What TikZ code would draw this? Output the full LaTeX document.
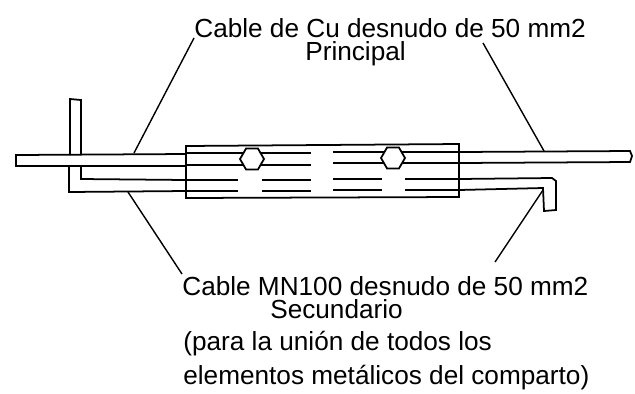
\documentclass[tikz,border=0pt]{standalone}
\usepackage{fontspec}
\setmainfont{Liberation Sans}
\usetikzlibrary{shapes.geometric}
\tikzset{wire/.style={line width=1pt},
	leader/.style={line width=.8pt},
	nut/.style={draw,line width=1pt,regular polygon,regular polygon sides=6,minimum size=.48cm,inner sep=0pt,fill=white},
	lbl/.style={font=\fontsize{14.9pt}{13pt}\selectfont,inner sep=0pt,anchor=north west,align=left}}
\begin{document}
\begin{tikzpicture}[x=.02cm,y=-.02cm]
	\useasboundingbox (0,0) rectangle (635,393);
	% upper cable
	\draw[wire] (186,154)--(16,155)--(16,166)--(186,166);
	\draw[wire] (459,152)--(630,151)--(632,156)--(630,162)--(459,163);
	% lower cable
	\draw[wire] (186,180)--(81,179)--(81,166);
	\draw[wire] (186,191)--(69,192)--(69,166);
	\draw[wire] (70,155)--(70,99)--(81,100)--(81,155);
	\draw[wire] (459,179)--(552,178)--(556,181)--(556,210)--(544,211)--(543,188)--(459,190);
	% clamp
	\draw[wire] (186,146)--(459,144)--(459,197)--(186,198)--cycle;
	\foreach \yy/\yb in {153/152,165/163,180/179,191/190}{
		\draw[wire] (186,\yy)--(238,\yy);
		\draw[wire] (262,\yy)--(311,\yy);
		\draw[wire] (333,\yb)--(382,\yb);
		\draw[wire] (405,\yb)--(459,\yb);
	}
	\foreach \yy in {153,165}
		\draw[wire] (238,\yy)--(262,\yy);
	\foreach \yb in {152,163}
		\draw[wire] (382,\yb)--(405,\yb);
	\node[nut] (nutL) at (252,159) {};
	\node[nut] (nutR) at (393,158) {};
	% labels
	\node[lbl] (princ) at (194,18) {Cable de Cu desnudo de 50 mm2\\\hspace*{2.22cm}Principal};
	\node[lbl] (secun) at (182,276) {Cable MN100 desnudo de 50 mm2\\\hspace*{1.76cm}Secundario};
	\node[lbl] (union) at (183,331) {(para la unión de todos los\\[4.4pt]elementos metálicos del comparto)};
	% leaders
	\coordinate (upL) at (134,153);
	\coordinate (upLe) at (194,38);
	\coordinate (upR) at (544,151);
	\coordinate (upRe) at (483,43);
	\coordinate (loL) at (128,192);
	\coordinate (loLe) at (182,274);
	\coordinate (loR) at (543,190);
	\coordinate (loRe) at (495,262);
	\draw[leader] (upL)--(upLe);
	\draw[leader] (upR)--(upRe);
	\draw[leader] (loL)--(loLe);
	\draw[leader] (loR)--(loRe);
\end{tikzpicture}
\end{document}
